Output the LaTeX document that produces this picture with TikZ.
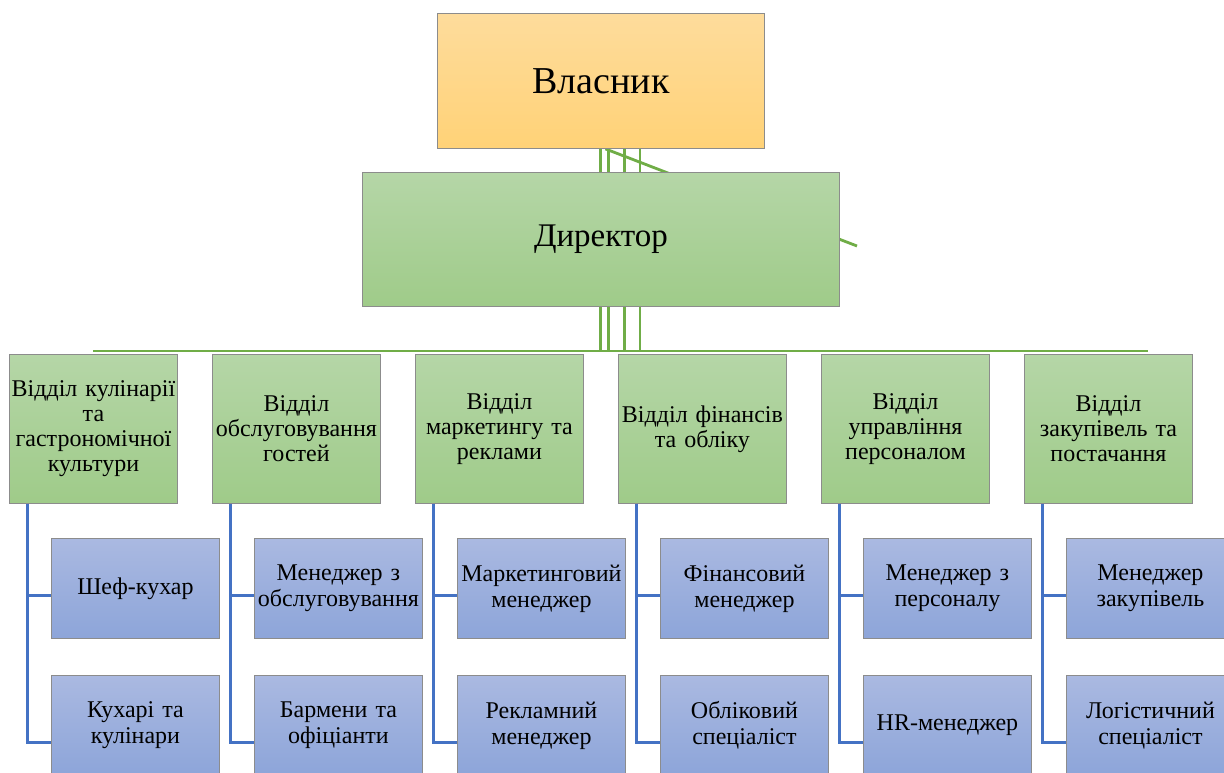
\documentclass[tikz,border=0pt]{standalone}
\usepackage{fontspec}
\setmainfont{Liberation Serif}
\usetikzlibrary{calc,backgrounds}
\definecolor{lnGreen}{HTML}{70AD47}
\definecolor{lnBlue}{HTML}{4472C4}
\definecolor{boxBorder}{HTML}{8C8C8C}
\definecolor{orTop}{HTML}{FEDC9C}
\definecolor{orBot}{HTML}{FFD277}
\definecolor{grTop}{HTML}{B5D6A7}
\definecolor{grBot}{HTML}{9FCB89}
\definecolor{blTop}{HTML}{AAB9E1}
\definecolor{blBot}{HTML}{8DA5D9}
\tikzset{
  basebox/.style={rectangle, draw=boxBorder, line width=0.9pt, inner sep=0pt, align=center, anchor=north west},
  ownerbox/.style={basebox, top color=orTop, bottom color=orBot, minimum width=327pt, minimum height=135pt, font=\fontsize{38}{42}\selectfont},
  dirbox/.style={basebox, top color=grTop, bottom color=grBot, minimum width=477pt, minimum height=134pt, font=\fontsize{33}{38}\selectfont},
  deptbox/.style={basebox, top color=grTop, bottom color=grBot, text width=168pt, minimum height=149pt, font=\fontsize{24}{25}\selectfont},
  subbox/.style={basebox, top color=blTop, bottom color=blBot, text width=168pt, minimum height=100pt, font=\fontsize{24}{26}\selectfont},
  gline/.style={draw=lnGreen, line width=2.8pt},
  bline/.style={draw=lnBlue, line width=3pt}
}
\begin{document}
\begin{tikzpicture}[x=1pt,y=-1pt]
\useasboundingbox (0,0) rectangle (1224,772);
\node[ownerbox] (owner) at (437,13) {Власник};
\node[dirbox] (director) at (362,172) {Директор};

\node[deptbox] (d1) at (9,354) {Відділ кулінарії\\та\\гастрономічної\\культури};
\node[deptbox] (d2) at (212,354) {Відділ\\обслуговування\\гостей};
\node[deptbox] (d3) at (415,354) {Відділ\\маркетингу та\\реклами};
\node[deptbox] (d4) at (618,354) {Відділ фінансів\\та обліку};
\node[deptbox] (d5) at (821,354) {Відділ\\управління\\персоналом};
\node[deptbox] (d6) at (1024,354) {Відділ\\закупівель та\\постачання};

\node[subbox] (s1a) at (51,538) {Шеф-кухар};
\node[subbox] (s1b) at (51,675) {Кухарі та\\кулінари};
\node[subbox] (s2a) at (254,538) {Менеджер з\\обслуговування};
\node[subbox] (s2b) at (254,675) {Бармени та\\офіціанти};
\node[subbox] (s3a) at (457,538) {Маркетинговий\\менеджер};
\node[subbox] (s3b) at (457,675) {Рекламний\\менеджер};
\node[subbox] (s4a) at (660,538) {Фінансовий\\менеджер};
\node[subbox] (s4b) at (660,675) {Обліковий\\спеціаліст};
\node[subbox] (s5a) at (863,538) {Менеджер з\\персоналу};
\node[subbox] (s5b) at (863,675) {HR-менеджер};
\node[subbox] (s6a) at (1066,538) {Менеджер\\закупівель};
\node[subbox] (s6b) at (1066,675) {Логістичний\\спеціаліст};

\coordinate (diagEnd) at (857,246);
\coordinate (busEnd) at (1148,351);

\begin{scope}[on background layer]
  \draw[gline] ($(owner.south)+(4.5,0)$) -- (diagEnd);
\end{scope}

\foreach \dx in {-0.5,7.5,23.5,39} {
  \draw[gline, line width=2.4pt] ($(owner.south)+(\dx,0)$) -- ($(director.north)+(\dx,0)$);
  \draw[gline, line width=2.4pt] ($(director.south)+(\dx,0)$) -- ($(director.south)+(\dx,45)$);
}
\draw[gline] ($(d1.north)+(0,-3)$) -- (busEnd);

\foreach \i in {1,...,6} {
  \draw[bline] ($(d\i.south west)+(18,0)$) |- ($(s\i a.west)+(0,7)$);
  \draw[bline] ($(d\i.south west)+(18,0)$) |- ($(s\i b.west)+(0,17)$);
}
\end{tikzpicture}
\end{document}
